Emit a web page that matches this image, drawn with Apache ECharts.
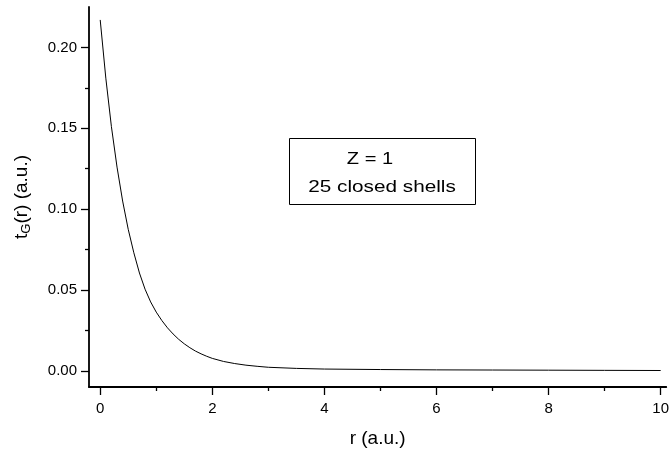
<!DOCTYPE html>
<html>
<head>
<meta charset="utf-8">
<script src="https://cdn.jsdelivr.net/npm/echarts@6/dist/echarts.min.js"></script>
<style>html,body{margin:0;padding:0;background:#fff;}#c{width:672px;height:453px;}</style>
</head>
<body>
<div id="c"></div>
<script>
// Data
const rValues = [0, 0.1, 0.2, 0.3, 0.4, 0.5, 0.6, 0.7, 0.8, 0.9, 1.0, 1.1, 1.2, 1.3, 1.4, 1.5, 1.6, 1.7, 1.8, 1.9, 2.0, 2.2, 2.4, 2.6, 2.8, 3.0, 3.5, 4.0, 5.0, 6.0, 7.0, 8.0, 9.0, 10.0];
const tGValues = [0.217, 0.181, 0.151, 0.126, 0.105, 0.0875, 0.073, 0.0605, 0.0505, 0.0426, 0.0363, 0.0311, 0.0266, 0.0228, 0.0195, 0.0167, 0.0143, 0.0122, 0.0105, 0.0090, 0.0077, 0.0058, 0.0045, 0.0035, 0.0028, 0.0022, 0.0015, 0.0011, 0.0008, 0.0006, 0.0005, 0.0004, 0.0003, 0.0002];
const xMajorTicks = [0, 2, 4, 6, 8, 10];
const xMinorTicks = [1, 3, 5, 7, 9];
const yMajorTicks = [0, 0.05, 0.10, 0.15, 0.20];
const yMinorTicks = [0.025, 0.075, 0.125, 0.175];
const annotationLines = ['Z = 1', '25 closed shells'];

const FONT = '"Liberation Sans", Arial, Helvetica, sans-serif';
const X_MIN = -0.2, X_MAX = 10.1, Y_MIN = -0.01, Y_MAX = 0.225;
const axisLine = { show: true, onZero: false, lineStyle: { color: '#000', width: 1.8 } };

const chart = echarts.init(document.getElementById('c'), null, { renderer: 'canvas' });
chart.setOption({
  backgroundColor: '#fff',
  animation: false,
  grid: { left: 89, right: 0, top: 7, bottom: 66, containLabel: false },
  xAxis: [
    {
      type: 'value', min: X_MIN, max: X_MAX, position: 'bottom',
      name: 'r (a.u.)', nameLocation: 'middle', nameGap: 42,
      nameTextStyle: { fontFamily: FONT, fontSize: 19, color: '#000' },
      axisLine: axisLine,
      axisTick: { show: true, inside: false, length: 8, customValues: xMajorTicks, lineStyle: { color: '#000', width: 1.3 } },
      axisLabel: { show: true, customValues: xMajorTicks, margin: 14, fontFamily: FONT, fontSize: 15, color: '#000',
                   alignMaxLabel: 'center', alignMinLabel: 'center', hideOverlap: false,
                   formatter: v => String(v) },
      splitLine: { show: false }
    },
    {
      type: 'value', min: X_MIN, max: X_MAX, position: 'bottom', offset: 0,
      axisLine: { show: false, onZero: false },
      axisTick: { show: true, length: 4, customValues: xMinorTicks, lineStyle: { color: '#000', width: 1.3 } },
      axisLabel: { show: false },
      splitLine: { show: false }
    }
  ],
  yAxis: [
    {
      type: 'value', min: Y_MIN, max: Y_MAX, position: 'left',
      name: '{t|t}{s|G}{t|(r) (a.u.)}', nameLocation: 'middle', nameGap: 56, nameRotate: 90,
      nameTextStyle: { fontFamily: FONT, fontSize: 19, color: '#000',
        rich: {
          t: { fontFamily: FONT, fontSize: 19, color: '#000' },
          s: { fontFamily: FONT, fontSize: 13, color: '#000', padding: [9, 0, 0, 0] }
        } },
      axisLine: axisLine,
      axisTick: { show: true, inside: false, length: 8, customValues: yMajorTicks, lineStyle: { color: '#000', width: 1.3 } },
      axisLabel: { show: true, customValues: yMajorTicks, margin: 12, fontFamily: FONT, fontSize: 15, color: '#000',
                   formatter: v => v.toFixed(2) },
      splitLine: { show: false }
    },
    {
      type: 'value', min: Y_MIN, max: Y_MAX, position: 'left', offset: 0,
      axisLine: { show: false, onZero: false },
      axisTick: { show: true, length: 4, customValues: yMinorTicks, lineStyle: { color: '#000', width: 1.3 } },
      axisLabel: { show: false },
      splitLine: { show: false }
    }
  ],
  series: [{
    type: 'line',
    xAxisIndex: 0, yAxisIndex: 0,
    data: rValues.map((r, i) => [r, tGValues[i]]),
    smooth: false,
    showSymbol: false,
    lineStyle: { color: '#000', width: 1 }
  }],
  graphic: [
    { type: 'rect', left: 289, top: 138, shape: { width: 186, height: 66 },
      style: { fill: '#fff', stroke: '#000', lineWidth: 1 } },
    { type: 'text', x: 370, y: 159, scaleX: 1.18, style: { text: annotationLines[0], fill: '#000', font: '17px ' + FONT, textAlign: 'center', textVerticalAlign: 'middle' } },
    { type: 'text', x: 382, y: 187, scaleX: 1.22, style: { text: annotationLines[1], fill: '#000', font: '17px ' + FONT, textAlign: 'center', textVerticalAlign: 'middle' } }
  ]
});
</script>
</body>
</html>
